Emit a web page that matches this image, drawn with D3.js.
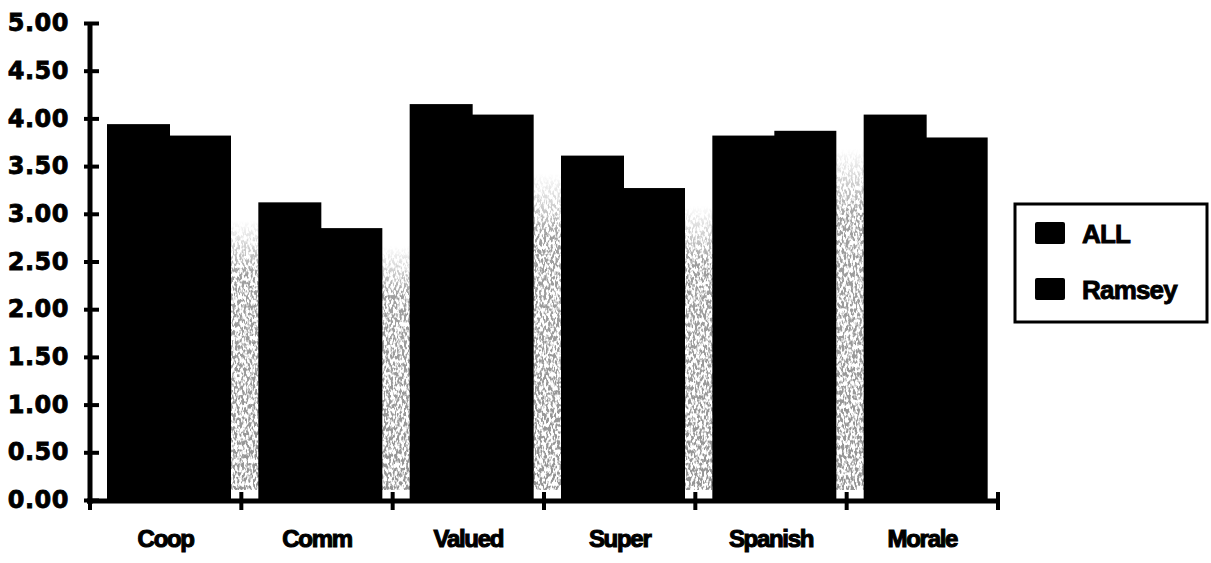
<!DOCTYPE html>
<html>
<head>
<meta charset="utf-8">
<script src="https://cdn.jsdelivr.net/npm/d3@7"></script>
<style>
  html, body { margin: 0; padding: 0; background: #fff; }
  svg { display: block; }
</style>
</head>
<body>
<svg id="chart" width="1211" height="563"></svg>
<script>
// Survey scale means by category, all respondents vs. Ramsey
const categories = ["Coop", "Comm", "Valued", "Super", "Spanish", "Morale"];
const seriesNames = ["ALL", "Ramsey"];
const allValues = [3.94, 3.12, 4.15, 3.61, 3.82, 4.04];
const ramseyValues = [3.82, 2.85, 4.04, 3.27, 3.87, 3.80];
const yTicks = [0, 0.5, 1, 1.5, 2, 2.5, 3, 3.5, 4, 4.5, 5];

const svg = d3.select("#chart");
const defs = svg.append("defs");

// speckled grey texture used between the bar groups
const grain = defs.append("filter").attr("id", "grain")
  .attr("x", 0).attr("y", 0).attr("width", 1).attr("height", 1);
grain.append("feTurbulence").attr("type", "fractalNoise")
  .attr("baseFrequency", "0.45 0.22").attr("numOctaves", 2).attr("seed", 7).attr("result", "n");
grain.append("feColorMatrix").attr("in", "n").attr("type", "matrix")
  .attr("values", "0 0 0 0 0.3  0 0 0 0 0.3  0 0 0 0 0.3  6 0 0 0 -2.6").attr("result", "dots");
grain.append("feComposite").attr("in", "dots").attr("in2", "SourceGraphic").attr("operator", "in");

const fade = defs.append("linearGradient").attr("id", "fade")
  .attr("x1", 0).attr("y1", 0).attr("x2", 0).attr("y2", 1);
fade.append("stop").attr("offset", "0%").attr("stop-color", "#000").attr("stop-opacity", 0);
fade.append("stop").attr("offset", "20%").attr("stop-color", "#000").attr("stop-opacity", 0.9);
fade.append("stop").attr("offset", "100%").attr("stop-color", "#000").attr("stop-opacity", 1);

const y = d3.scaleLinear().domain([0, 5]).range([500, 23]);
const x = d3.scaleBand().domain(categories).range([90, 998]).padding(0);
const xs = d3.scaleBand().domain(seriesNames).range([17, 141]).padding(0);

const data = categories.map((c, i) => ({ cat: c, values: [allValues[i], ramseyValues[i]] }));

// grey bleed in the gaps between neighbouring groups
const gaps = [];
for (let i = 0; i < categories.length - 1; i++) {
  const left = x(categories[i]) + xs("Ramsey") + xs.bandwidth();
  const right = x(categories[i + 1]) + xs("ALL");
  const top = y(Math.min(ramseyValues[i], allValues[i + 1])) + 18;
  gaps.push({ left, right, top });
}
svg.append("g").selectAll("rect").data(gaps).join("rect")
  .attr("x", d => d.left - 1)
  .attr("y", d => d.top)
  .attr("width", d => d.right - d.left + 2)
  .attr("height", d => y(0) - 10 - d.top)
  .attr("fill", "url(#fade)")
  .attr("filter", "url(#grain)");

// bars (series in a group touch each other)
const groups = svg.append("g").selectAll("g").data(data).join("g")
  .attr("transform", d => `translate(${x(d.cat)},0)`);
groups.selectAll("rect").data(d => d.values.map((v, j) => ({ key: seriesNames[j], v })))
  .join("rect")
  .attr("x", d => xs(d.key))
  .attr("y", d => y(d.v))
  .attr("width", d => xs.bandwidth() + (d.key === "ALL" ? 1 : 0))
  .attr("height", d => y(0) - y(d.v))
  .attr("fill", "#000");

// y axis
const yAxis = svg.append("g").attr("transform", "translate(90,0)")
  .call(d3.axisLeft(y).tickValues(yTicks).tickFormat(d3.format(".2f")).tickSize(6).tickPadding(15));
yAxis.select(".domain").remove();
yAxis.append("line").attr("x1", 0).attr("x2", 0).attr("y1", y(5) - 1).attr("y2", y(0) + 4)
  .attr("stroke", "#000").attr("stroke-width", 5);
yAxis.selectAll(".tick line").attr("x1", 9).attr("x2", -6)
  .attr("stroke", "#000").attr("stroke-width", 4);
yAxis.selectAll(".tick text")
  .attr("fill", "#000")
  .attr("stroke", "#000").attr("stroke-width", 0.8)
  .style("font-family", "'DejaVu Sans', sans-serif")
  .style("font-weight", "bold")
  .style("font-size", "24px")
  .style("letter-spacing", "0.5px");

// x axis: baseline, group boundary ticks and category labels
const boundaries = categories.map(c => x(c)).concat([x.range()[1]]);
svg.append("line").attr("x1", 87).attr("x2", 1000).attr("y1", y(0) + 1).attr("y2", y(0) + 1)
  .attr("stroke", "#000").attr("stroke-width", 5);
svg.append("g").selectAll("line").data(boundaries).join("line")
  .attr("x1", d => d).attr("x2", d => d)
  .attr("y1", y(0) - 8).attr("y2", y(0) + 10)
  .attr("stroke", "#000").attr("stroke-width", 4);

const xAxis = svg.append("g").attr("transform", `translate(0,${y(0) + 1})`)
  .call(d3.axisBottom(x).tickSize(0).tickPadding(29));
xAxis.select(".domain").remove();
xAxis.selectAll(".tick text")
  .attr("fill", "#000")
  .attr("stroke", "#000").attr("stroke-width", 1.1)
  .style("font-family", "'Liberation Sans', Arial, sans-serif")
  .style("font-weight", "bold")
  .style("font-size", "24px")
  .style("letter-spacing", "-1.3px");

// legend
const legend = svg.append("g").attr("transform", "translate(1015,204)");
legend.append("rect").attr("width", 192).attr("height", 118)
  .attr("fill", "#fff").attr("stroke", "#000").attr("stroke-width", 3);
const items = legend.selectAll("g.item").data(seriesNames).join("g")
  .attr("class", "item")
  .attr("transform", (d, i) => `translate(20,${18 + i * 56})`);
items.append("rect").attr("width", 30).attr("height", 22).attr("rx", 2).attr("fill", "#000");
items.append("text")
  .attr("x", 47).attr("y", 21)
  .attr("fill", "#000")
  .attr("stroke", "#000").attr("stroke-width", 0.9)
  .style("font-family", "'Liberation Sans', Arial, sans-serif")
  .style("font-weight", "bold")
  .style("font-size", "26px")
  .style("letter-spacing", "-0.8px")
  .text(d => d);
</script>
</body>
</html>
